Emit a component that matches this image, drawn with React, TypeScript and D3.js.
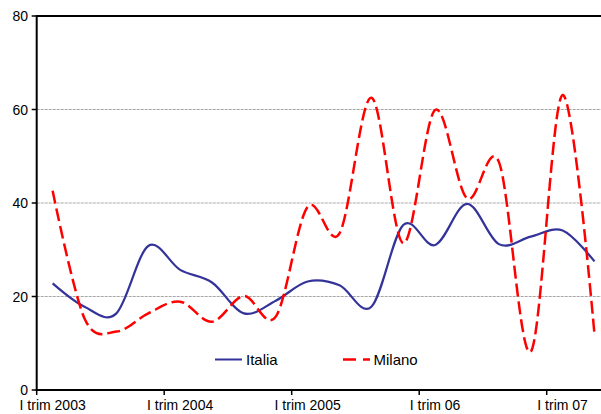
import React from "react";
import * as d3 from "d3";

const categories: string[] = [
  "I trim 2003", "II trim 2003", "III trim 2003", "IV trim 2003",
  "I trim 2004", "II trim 2004", "III trim 2004", "IV trim 2004",
  "I trim 2005", "II trim 2005", "III trim 2005", "IV trim 2005",
  "I trim 06", "II trim 06", "III trim 06", "IV trim 06",
  "I trim 07", "II trim 07",
];
const italia: number[] = [22.8, 17.8, 16.4, 30.8, 25.7, 23.0, 16.4, 19.1, 23.2, 22.4, 17.8, 35.3, 31.0, 39.8, 31.2, 32.8, 34.1, 27.5];
const milano: number[] = [42.6, 15.3, 12.5, 16.4, 18.9, 14.6, 20.1, 15.7, 39.2, 33.5, 62.5, 31.4, 59.9, 41.0, 48.8, 8.2, 63.1, 11.8];
const yTicks: number[] = [0, 20, 40, 60, 80];
const gridTicks: number[] = [20, 40, 60];
const seriesNames: string[] = ["Italia", "Milano"];

const W = 601;
const H = 414;
const left = 36.7;
const bandW = 31.875;
const top = 16;
const bottom = 390;
const font = "'Liberation Sans', Arial, sans-serif";

export default function App() {
  const x = d3.scaleBand<string>().domain(categories).range([left, left + bandW * categories.length]).padding(0);
  const y = d3.scaleLinear().domain([0, 80]).range([bottom, top]);
  const cx = (c: string) => (x(c) as number) + x.bandwidth() / 2;

  const line = d3
    .line<number>()
    .x((_, i) => cx(categories[i]))
    .y((d) => y(d))
    .curve(d3.curveCardinal.tension(0));

  const labelCats = categories.filter((c) => c.startsWith("I trim"));

  return (
    <svg width={W} height={H} style={{ position: "absolute", left: 0, top: 0, background: "#fff" }} fontFamily={font}>
      {gridTicks.map((t) => (
        <line key={t} x1={left} x2={W} y1={y(t)} y2={y(t)} stroke="#a6a6a6" strokeWidth={1} strokeDasharray="3,1" />
      ))}
      <line x1={left} x2={W} y1={y(80)} y2={y(80)} stroke="#000" strokeWidth={2} />
      {/* y axis */}
      <line x1={left} x2={left} y1={y(80) - 1} y2={y(0) + 1} stroke="#000" strokeWidth={2} />
      {yTicks.map((t) => (
        <g key={t}>
          <line x1={left - 5} x2={left} y1={y(t)} y2={y(t)} stroke="#000" strokeWidth={1.5} />
          <text x={28} y={y(t)} dy="0.36em" textAnchor="end" fontSize={14} fill="#000">
            {t}
          </text>
        </g>
      ))}
      {/* x axis */}
      <line x1={left - 1} x2={W} y1={y(0)} y2={y(0)} stroke="#000" strokeWidth={2} />
      {labelCats.map((c) => (
        <g key={c}>
          <line x1={x(c) as number} x2={x(c) as number} y1={y(0)} y2={y(0) + 5} stroke="#000" strokeWidth={1.5} />
          <text x={cx(c)} y={410} textAnchor="middle" fontSize={14} fill="#000">
            {c}
          </text>
        </g>
      ))}
      {/* series */}
      <path d={line(italia) || ""} fill="none" stroke="#333399" strokeWidth={2.2} strokeLinejoin="round" />
      <path d={line(milano) || ""} fill="none" stroke="#ff0000" strokeWidth={2.5} strokeDasharray="13,5" />
      {/* legend */}
      <line x1={215} x2={242} y1={359.5} y2={359.5} stroke="#333399" strokeWidth={2} />
      <text x={246} y={365} fontSize={15} fill="#000">{seriesNames[0]}</text>
      <line x1={343} x2={370} y1={359.5} y2={359.5} stroke="#ff0000" strokeWidth={2.5} strokeDasharray="13,7" />
      <text x={373.5} y={365} fontSize={15} fill="#000">{seriesNames[1]}</text>
    </svg>
  );
}
